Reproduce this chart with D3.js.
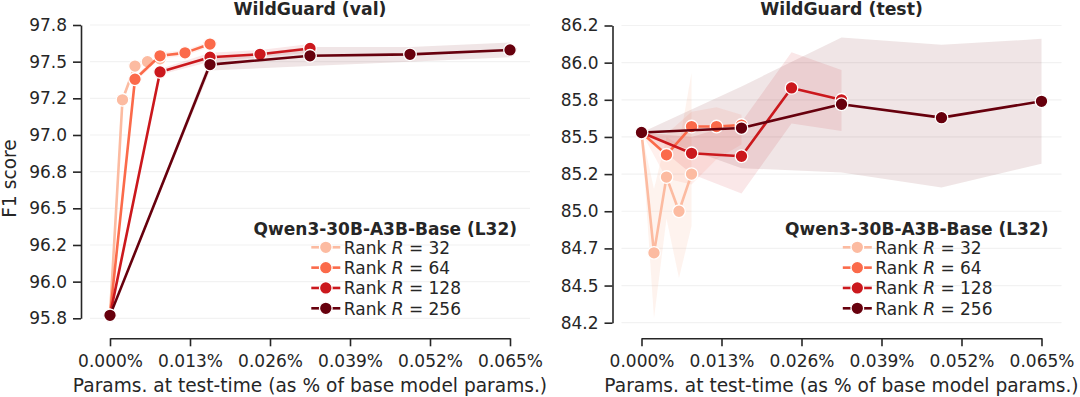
<!DOCTYPE html>
<html>
<head>
<meta charset="utf-8">
<script src="https://cdn.jsdelivr.net/npm/d3@7"></script>
<style>
  html, body { margin: 0; padding: 0; background: #fff; }
  svg { display: block; font-family: 'DejaVu Sans', sans-serif; }
</style>
</head>
<body>
<svg id="chart" width="1080" height="397"></svg>
<script>
/* global d3 */

const ranks = [32, 64, 128, 256];
const colors = ['#fcbba1', '#fb6a4a', '#cb181d', '#67000d'];
const legendTitle = 'Qwen3-30B-A3B-Base (L32)';

const xTicks = [0, 0.013, 0.026, 0.039, 0.052, 0.065];
const xTickLabels = ['0.000%', '0.013%', '0.026%', '0.039%', '0.052%', '0.065%'];

// params at test-time (% of base model params), one array per rank
const xR32 = [0, 0.00203, 0.00406, 0.00609, 0.00813];
const xR64 = [0, 0.00406, 0.00813, 0.01219, 0.01625];
const xR128 = [0, 0.00813, 0.01625, 0.02438, 0.0325];
const xR256 = [0, 0.01625, 0.0325, 0.04875, 0.065];

// WildGuard (val)
const valTicks = [95.75, 96.0, 96.25, 96.5, 96.75, 97.0, 97.25, 97.5, 97.75];
const valTickLabels = ['95.8', '96.0', '96.2', '96.5', '96.8', '97.0', '97.2', '97.5', '97.8'];
const valR32 = [95.77, 97.24, 97.47, 97.5, 97.52];
const valR64 = [95.77, 97.38, 97.54, 97.56, 97.62];
const valR128 = [95.77, 97.43, 97.53, 97.55, 97.59];
const valR256 = [95.77, 97.48, 97.54, 97.55, 97.58];
const valLoR32 = [95.77, 97.22, 97.45, 97.48, 97.5];
const valHiR32 = [95.77, 97.26, 97.49, 97.52, 97.54];
const valLoR64 = [95.77, 97.36, 97.52, 97.54, 97.6];
const valHiR64 = [95.77, 97.4, 97.56, 97.58, 97.64];
const valLoR128 = [95.77, 97.41, 97.5, 97.53, 97.56];
const valHiR128 = [95.77, 97.45, 97.56, 97.58, 97.62];
const valLoR256 = [95.77, 97.44, 97.47, 97.5, 97.53];
const valHiR256 = [95.77, 97.52, 97.6, 97.6, 97.63];

// WildGuard (test)
const testTicks = [84.25, 84.5, 84.75, 85.0, 85.25, 85.5, 85.75, 86.0, 86.25];
const testTickLabels = ['84.2', '84.5', '84.7', '85.0', '85.2', '85.5', '85.8', '86.0', '86.2'];
const testR32 = [85.53, 84.72, 85.23, 85.0, 85.25];
const testR64 = [85.53, 85.38, 85.57, 85.57, 85.58];
const testR128 = [85.53, 85.39, 85.37, 85.83, 85.75];
const testR256 = [85.53, 85.56, 85.72, 85.63, 85.74];
const testLoR32 = [85.53, 84.28, 84.95, 84.55, 84.9];
const testHiR32 = [85.53, 85.15, 85.5, 85.45, 85.93];
const testLoR64 = [85.53, 85.22, 85.18, 85.35, 85.45];
const testHiR64 = [85.53, 85.52, 85.67, 85.7, 85.65];
const testLoR128 = [85.53, 85.25, 85.12, 85.59, 85.54];
const testHiR128 = [85.53, 85.5, 85.6, 86.07, 85.95];
const testLoR256 = [85.53, 85.29, 85.26, 85.16, 85.32];
const testHiR256 = [85.53, 85.84, 86.17, 86.12, 86.16];

const INK = '#262626';
const FONT = 17;
const LABEL_FONT = 18.6;

const xs = [xR32, xR64, xR128, xR256];

const panels = [
  {
    title: 'WildGuard (val)',
    left: 90, right: 530, yTop: 25, yBottom: 318.3,
    ticks: valTicks, tickLabels: valTickLabels,
    ys: [valR32, valR64, valR128, valR256],
    los: [valLoR32, valLoR64, valLoR128, valLoR256],
    his: [valHiR32, valHiR64, valHiR128, valHiR256],
  },
  {
    title: 'WildGuard (test)',
    left: 621.5, right: 1061.5, yTop: 25.5, yBottom: 322.7,
    ticks: testTicks, tickLabels: testTickLabels,
    ys: [testR32, testR64, testR128, testR256],
    los: [testLoR32, testLoR64, testLoR128, testLoR256],
    his: [testHiR32, testHiR64, testHiR128, testHiR256],
  },
];

const svg = d3.select('#chart');

function drawPanel(p) {
  const g = svg.append('g');

  const x = d3.scaleLinear().domain([0, 0.065]).range([p.left + 20, p.right - 20]);
  const y = d3
    .scaleLinear()
    .domain([p.ticks[0], p.ticks[p.ticks.length - 1]])
    .range([p.yBottom, p.yTop]);

  // light horizontal grid
  g.append('g')
    .selectAll('line')
    .data(p.ticks)
    .join('line')
    .attr('x1', p.left)
    .attr('x2', p.right)
    .attr('y1', (d) => y(d))
    .attr('y2', (d) => y(d))
    .attr('stroke', '#f2f2f2')
    .attr('stroke-width', 1.2);

  const series = ranks.map((r, i) => ({
    rank: r,
    color: colors[i],
    pts: xs[i].map((xv, k) => ({ x: xv, y: p.ys[i][k], lo: p.los[i][k], hi: p.his[i][k] })),
  }));

  const area = d3
    .area()
    .x((d) => x(d.x))
    .y0((d) => y(d.lo))
    .y1((d) => y(d.hi));

  g.append('g')
    .selectAll('path')
    .data(series)
    .join('path')
    .attr('d', (d) => area(d.pts))
    .attr('fill', (d) => d.color)
    .attr('fill-opacity', (d, i) => (i === 0 ? 0.18 : 0.1));

  const line = d3
    .line()
    .x((d) => x(d.x))
    .y((d) => y(d.y));

  series.forEach((s) => {
    const sg = g.append('g');
    sg.append('path')
      .attr('d', line(s.pts))
      .attr('fill', 'none')
      .attr('stroke', s.color)
      .attr('stroke-width', 2.6)
      .attr('stroke-linejoin', 'round');
    sg.selectAll('circle')
      .data(s.pts)
      .join('circle')
      .attr('cx', (d) => x(d.x))
      .attr('cy', (d) => y(d.y))
      .attr('r', 6.3)
      .attr('fill', s.color)
      .attr('stroke', '#fff')
      .attr('stroke-width', 1.3);
  });

  // axes, spines trimmed to the tick range and offset from the plot
  const yAxis = d3
    .axisLeft(y)
    .tickValues(p.ticks)
    .tickFormat((d, i) => p.tickLabels[i])
    .tickSizeInner(8)
    .tickSizeOuter(0)
    .tickPadding(6);

  const xAxis = d3
    .axisBottom(x)
    .tickValues(xTicks)
    .tickFormat((d, i) => xTickLabels[i])
    .tickSizeInner(8)
    .tickSizeOuter(0)
    .tickPadding(9);

  const ya = g.append('g').attr('transform', `translate(${p.left - 9},0)`).call(yAxis);
  const xa = g.append('g').attr('transform', 'translate(0,338.3)').call(xAxis);

  [ya, xa].forEach((a) => {
    a.selectAll('path, line').attr('stroke', INK).attr('stroke-width', 1.6);
    a.selectAll('text')
      .attr('fill', INK)
      .attr('font-size', FONT)
      .attr('font-family', "'DejaVu Sans', sans-serif");
  });

  const cx = (p.left + p.right) / 2;

  g.append('text')
    .attr('x', cx)
    .attr('y', 14.5)
    .attr('text-anchor', 'middle')
    .attr('font-size', 17.3)
    .attr('font-weight', 'bold')
    .attr('fill', INK)
    .text(p.title);

  g.append('text')
    .attr('x', cx)
    .attr('y', 391.5)
    .attr('text-anchor', 'middle')
    .attr('font-size', LABEL_FONT)
    .attr('fill', INK)
    .text('Params. at test-time (as % of base model params.)');

  // legend
  const lx = p.left + 295.3;
  const leg = g.append('g');
  leg.append('text')
    .attr('x', lx)
    .attr('y', 235)
    .attr('text-anchor', 'middle')
    .attr('font-size', FONT)
    .attr('font-weight', 'bold')
    .attr('fill', INK)
    .text(legendTitle);

  const rowY = d3.scaleLinear().domain([0, 3]).range([247.3, 308.3]);
  series.forEach((s, i) => {
    const ry = rowY(i);
    leg.append('line')
      .attr('x1', lx - 74)
      .attr('x2', lx - 45)
      .attr('y1', ry)
      .attr('y2', ry)
      .attr('stroke', s.color)
      .attr('stroke-width', 2.6);
    leg.append('circle')
      .attr('cx', lx - 59.5)
      .attr('cy', ry)
      .attr('r', 6.3)
      .attr('fill', s.color)
      .attr('stroke', '#fff')
      .attr('stroke-width', 1.3);
    const t = leg.append('text')
      .attr('x', lx - 41.5)
      .attr('y', ry + 6.2)
      .attr('font-size', FONT)
      .attr('fill', INK);
    t.append('tspan').text('Rank ');
    t.append('tspan').attr('font-style', 'italic').text('R');
    t.append('tspan').text(` = ${s.rank}`);
  });
}

panels.forEach(drawPanel);

svg.append('text')
  .attr('transform', 'translate(16,178.5) rotate(-90)')
  .attr('text-anchor', 'middle')
  .attr('font-size', LABEL_FONT)
  .attr('fill', INK)
  .text('F1 score');
</script>
</body>
</html>
